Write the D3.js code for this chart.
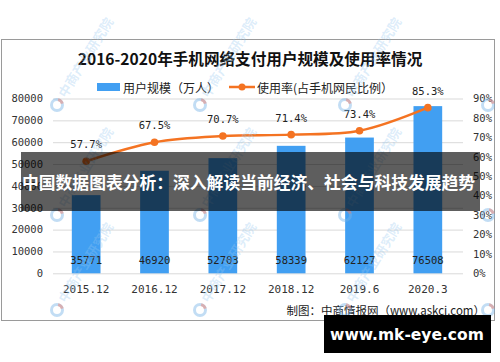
<!DOCTYPE html>
<html>
<head>
<meta charset="utf-8">
<script src="https://cdn.jsdelivr.net/npm/d3@7/dist/d3.min.js"></script>
<style>
  html, body { margin: 0; padding: 0; background: #fff; }
  svg { display: block; }
</style>
</head>
<body>
<svg id="chart" width="500" height="362"></svg>
<script>
// ---- data ----
const categories = ["2015.12", "2016.12", "2017.12", "2018.12", "2019.6", "2020.3"];
const userScale = [35771, 46920, 52703, 58339, 62127, 76508];      // 万人
const usageRate = [57.7, 67.5, 70.7, 71.4, 73.4, 85.3];            // %
const leftTicks = [0, 10000, 20000, 30000, 40000, 50000, 60000, 70000, 80000];
const rightTicks = [0, 10, 20, 30, 40, 50, 60, 70, 80, 90];
const titleText = "2016-2020年手机网络支付用户规模及使用率情况";
const legendBar = "用户规模（万人）";
const legendLine = "使用率(占手机网民比例）";
const sourceText = "制图：中商情报网（www.askci.com）";
const bannerText = "中国数据图表分析：深入解读当前经济、社会与科技发展趋势";
const siteText = "www.mk-eye.com";
const watermarkText = "中商产业研究院";

// ---- layout ----
const svg = d3.select("#chart");
const cjk = "'Noto Sans CJK SC', 'Noto Sans', sans-serif";
const mono = "'DejaVu Sans Mono', 'Liberation Mono', monospace";
const plot = { left: 53, right: 463, top: 98.5, bottom: 273.3 };
const blue = "#419ff2", orange = "#f47322";

const x = d3.scaleBand().domain(categories).range([plot.left - 1, plot.right - 1])
  .paddingInner(0.58).paddingOuter(0.29);
const yL = d3.scaleLinear().domain([0, 80000]).range([plot.bottom, plot.top]);
const yR = d3.scaleLinear().domain([0, 90]).range([plot.bottom, plot.top]);

// frame
svg.append("rect").attr("x", 1.5).attr("y", 39.5).attr("width", 493).attr("height", 281)
  .attr("fill", "#fff").attr("stroke", "#9a9a9a").attr("stroke-width", 1);

// title
svg.append("text").attr("x", 250).attr("y", 58).attr("text-anchor", "middle")
  .attr("dominant-baseline", "central")
  .style("font-family", cjk).style("font-size", "15.6px").style("font-weight", "bold")
  .attr("fill", "#111").text(titleText);

// legend
svg.append("rect").attr("x", 97).attr("y", 83).attr("width", 23).attr("height", 8).attr("fill", blue);
svg.append("text").attr("x", 123).attr("y", 87).attr("dominant-baseline", "central")
  .style("font-family", cjk).style("font-size", "12px").attr("fill", "#222").text(legendBar);
svg.append("line").attr("x1", 229).attr("x2", 255).attr("y1", 87).attr("y2", 87)
  .attr("stroke", orange).attr("stroke-width", 2.5);
svg.append("circle").attr("cx", 242).attr("cy", 87).attr("r", 3.5).attr("fill", orange);
svg.append("text").attr("x", 257).attr("y", 87).attr("dominant-baseline", "central")
  .style("font-family", cjk).style("font-size", "12px").attr("fill", "#222").text(legendLine);

// left axis + grid
const gL = svg.append("g").attr("transform", `translate(${plot.left},0)`)
  .call(d3.axisLeft(yL).tickValues(leftTicks).tickSize(-(plot.right - plot.left)).tickPadding(10)
    .tickFormat(d3.format("d")));
gL.select(".domain").remove();
gL.selectAll(".tick line").attr("stroke", "#d9d9d9").attr("stroke-width", 1);
gL.selectAll(".tick text").style("font-family", mono).style("font-size", "10.5px").attr("fill", "#333");

// right axis
const gR = svg.append("g").attr("transform", `translate(${plot.right},0)`)
  .call(d3.axisRight(yR).tickValues(rightTicks).tickSize(0).tickPadding(10).tickFormat(d => d + "%"));
gR.select(".domain").remove();
gR.selectAll(".tick text").style("font-family", mono).style("font-size", "10.5px").attr("fill", "#333");

// bars
svg.append("g").selectAll("rect").data(categories).join("rect")
  .attr("x", d => x(d)).attr("width", x.bandwidth())
  .attr("y", (d, i) => yL(userScale[i])).attr("height", (d, i) => yL(0) - yL(userScale[i]))
  .attr("fill", blue);

// bar labels
svg.append("g").selectAll("text").data(categories).join("text")
  .attr("x", d => x(d) + x.bandwidth() / 2).attr("y", 259.5)
  .attr("text-anchor", "middle").attr("dominant-baseline", "central")
  .style("font-family", mono).style("font-size", "10.5px").attr("fill", "#222")
  .text((d, i) => userScale[i]);

// x axis
const gX = svg.append("g").attr("transform", `translate(0,${plot.bottom})`)
  .call(d3.axisBottom(x).tickSize(0).tickPadding(12));
gX.select(".domain").remove();
gX.selectAll(".tick text").style("font-family", mono).style("font-size", "11px").attr("fill", "#333");

// line
const pts = categories.map((c, i) => [x(c) + x.bandwidth() / 2, yR(usageRate[i])]);
svg.append("path").datum(pts)
  .attr("d", d3.line().curve(d3.curveCatmullRom.alpha(0.5)))
  .attr("fill", "none").attr("stroke", orange).attr("stroke-width", 2.5);
svg.append("g").selectAll("circle").data(pts).join("circle")
  .attr("cx", d => d[0]).attr("cy", d => d[1]).attr("r", 3.8).attr("fill", orange);
svg.append("g").selectAll("text").data(pts).join("text")
  .attr("x", d => d[0]).attr("y", d => d[1] - 17)
  .attr("text-anchor", "middle").attr("dominant-baseline", "central")
  .style("font-family", mono).style("font-size", "10.5px").attr("fill", "#222")
  .text((d, i) => usageRate[i].toFixed(1) + "%");

// source
svg.append("text").attr("x", 485).attr("y", 310).attr("text-anchor", "end")
  .attr("dominant-baseline", "central")
  .style("font-family", cjk).style("font-size", "11.5px").attr("fill", "#222").text(sourceText);

// watermarks (logo marks; text only where it fits inside the picture)
const wmX = [57, 200, 345, 488], wmY = [105, 215, 310];
const wm = svg.append("g").attr("pointer-events", "none");
wmY.forEach(yy => wmX.forEach(xx => {
  const g = wm.append("g").attr("transform", `translate(${xx},${yy})`);
  g.append("circle").attr("r", 5.5).attr("fill", "none")
    .attr("stroke", "rgba(120,180,230,0.45)").attr("stroke-width", 3);
  g.append("path").attr("d", d3.arc()({ innerRadius: 4, outerRadius: 7, startAngle: 0.2, endAngle: 1.3 }))
    .attr("fill", "rgba(240,120,100,0.45)");
  if (xx < 450) {
    g.append("text").attr("x", 0).attr("y", 0)
      .attr("transform", "rotate(-58) translate(10,4)")
      .style("font-family", cjk).style("font-size", "13px").style("font-weight", "bold")
      .attr("fill", "rgba(150,200,240,0.33)").text(watermarkText);
  }
}));

// banner overlay
svg.append("rect").attr("x", 21).attr("y", 152).attr("width", 459).attr("height", 59)
  .attr("fill", "rgba(0,0,0,0.63)");
svg.append("text").attr("x", 22).attr("y", 182).attr("dominant-baseline", "central")
  .style("font-family", cjk).style("font-size", "16.8px").style("font-weight", "bold")
  .attr("fill", "#fff").text(bannerText);

// site box
svg.append("rect").attr("x", 324).attr("y", 315).attr("width", 167).attr("height", 38).attr("fill", "#000");
svg.append("text").attr("x", 407).attr("y", 335).attr("text-anchor", "middle").attr("dominant-baseline", "central")
  .style("font-family", "'DejaVu Sans', sans-serif").style("font-size", "15.5px").style("font-weight", "bold")
  .attr("fill", "#fff").text(siteText);
</script>
</body>
</html>
